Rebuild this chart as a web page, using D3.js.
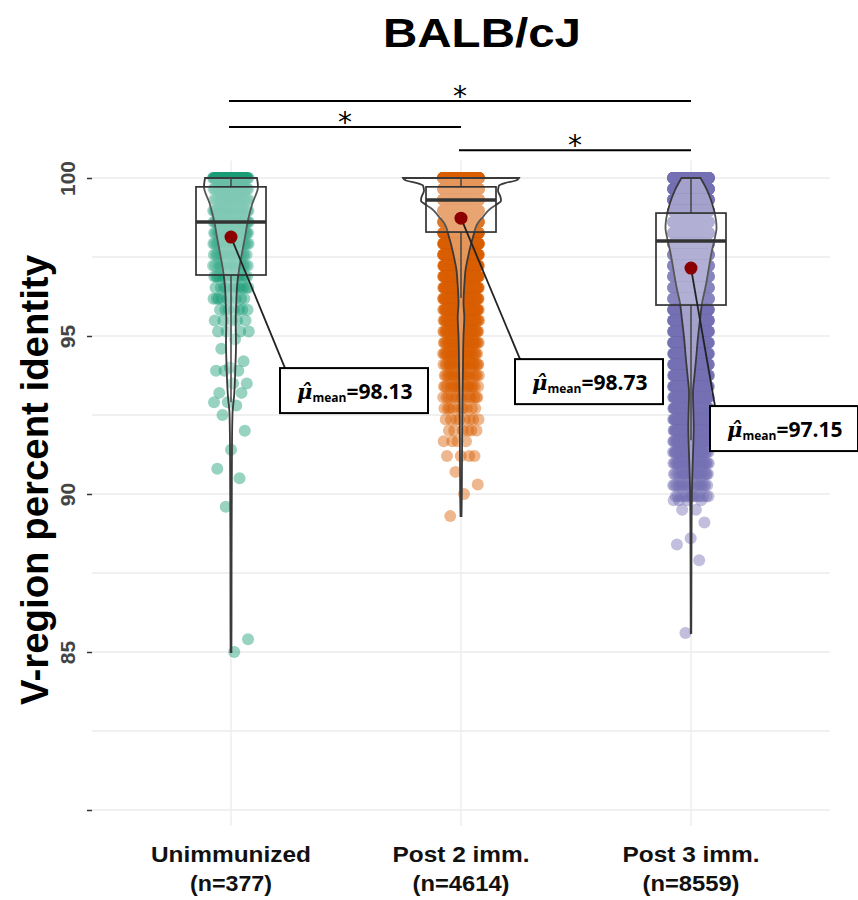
<!DOCTYPE html>
<html>
<head>
<meta charset="utf-8">
<script src="https://cdn.jsdelivr.net/npm/d3@7"></script>
<style>
body { margin: 0; background: #fff; }
</style>
</head>
<body>
<div id="chart"></div>
<script>
// groups on the x axis
const groups = ["Unimmunized", "Post 2 imm.", "Post 3 imm."];
const groupN = ["(n=377)", "(n=4614)", "(n=8559)"];
const groupColors = ["#1b9e77", "#d95f02", "#7570b3"];

// V-region percent identity values and the number of sequences at each value
const unimmValues = [100, 99.65, 99.31, 98.96, 98.61, 98.26, 97.92, 97.57, 97.22, 96.88, 96.53, 96.18, 95.83, 95.49, 95.14,
    94.9, 94.6, 94.2, 94.0, 93.9, 93.5, 93.2, 92.9, 92.8, 92.5, 92.0, 91.4, 90.8, 90.5, 89.6, 85.4, 85.0];
const unimmCounts = [74, 46, 32, 30, 36, 26, 22, 20, 18, 14, 12, 9, 7, 5, 4,
    1, 1, 1, 1, 3, 2, 2, 2, 1, 1, 1, 1, 1, 1, 1, 1, 1];

const post2Values = [100, 99.65, 99.31, 98.96, 98.61, 98.26, 97.92, 97.57, 97.22, 96.88, 96.53, 96.18, 95.83, 95.49, 95.14,
    94.79, 94.44, 94.10, 93.75, 93.40, 93.06, 92.71, 92.36, 92.01, 91.67, 91.2, 90.7, 90.3, 90.0, 89.3];
const post2Counts = [891, 600, 900, 450, 350, 300, 220, 170, 130, 110, 90, 75, 60, 50, 40,
    35, 30, 25, 20, 18, 14, 10, 8, 6, 4, 4, 1, 1, 1, 1];

const post3Values = [100, 99.65, 99.31, 98.96, 98.61, 98.26, 97.92, 97.57, 97.22, 96.88, 96.53, 96.18, 95.83, 95.49, 95.14,
    94.79, 94.44, 94.10, 93.75, 93.40, 93.06, 92.71, 92.36, 92.01, 91.67, 91.32, 90.97, 90.63, 90.28, 89.93,
    89.8, 89.5, 89.1, 88.6, 88.4, 87.9, 85.6];
const post3Counts = [802, 550, 550, 550, 550, 600, 700, 500, 450, 400, 380, 400, 300, 270, 240,
    210, 180, 160, 140, 120, 100, 85, 70, 60, 50, 40, 32, 25, 20, 14,
    4, 2, 1, 1, 1, 1, 1];

// box plot statistics (lower whisker, Q1, median, Q3, upper whisker) and means
const boxLow = [92.9, 96.2, 91.7];
const boxQ1 = [96.93, 98.29, 95.98];
const boxMedian = [98.61, 99.30, 98.01];
const boxQ3 = [99.72, 99.72, 98.89];
const boxHigh = [100, 100, 100];
const groupMeans = [98.13, 98.73, 97.15];

// violin outlines: value and relative density
const unimmViolinV = [100, 99.72, 99.21, 98.67, 98.13, 97.63, 97.09, 96.55, 96.04, 95.51, 94.7, 94.15, 93.07, 92.56, 91.5, 90, 88, 86, 85];
const unimmViolinD = [0.448, 0.466, 0.371, 0.293, 0.241, 0.19, 0.138, 0.103, 0.091, 0.081, 0.086, 0.078, 0.052, 0.026, 0.017, 0.014, 0.010, 0.009, 0.007];
const post2ViolinV = [100, 99.92, 99.84, 99.76, 99.6, 99.4, 99.28, 99.15, 99.02, 98.77, 98.58, 98.13, 97.5, 97.09, 96.68, 96.04, 95.6, 95, 94, 93, 92, 91, 90, 89.3];
const post2ViolinD = [1, 0.948, 0.759, 0.655, 0.638, 0.681, 0.69, 0.603, 0.5, 0.379, 0.293, 0.207, 0.121, 0.078, 0.06, 0.043, 0.057, 0.043, 0.034, 0.026, 0.021, 0.017, 0.014, 0.009];
const post3ViolinV = [100, 99.62, 99.21, 98.67, 98.42, 98.13, 97.63, 97.09, 96.55, 96.04, 95.51, 94.97, 94.24, 93.7, 93.2, 92.12, 91.08, 90.22, 89, 87, 85.6];
const post3ViolinD = [0.164, 0.276, 0.362, 0.431, 0.44, 0.414, 0.353, 0.302, 0.25, 0.19, 0.155, 0.121, 0.086, 0.057, 0.034, 0.047, 0.031, 0.017, 0.010, 0.007, 0.005];

// y axis
const yTicks = [80, 85, 90, 95, 100];
const yTickLabels = ["", "85", "90", "95", "100"];
const yMinorTicks = [82.5, 87.5, 92.5, 97.5];

// significance brackets
const sigFrom = [0, 0, 1];
const sigTo = [2, 1, 2];
const sigLevel = [102.44, 101.61, 100.88];
const sigLabel = ["*", "*", "*"];

const groupValues = [unimmValues, post2Values, post3Values];
const groupCounts = [unimmCounts, post2Counts, post3Counts];
const violinV = [unimmViolinV, post2ViolinV, post3ViolinV];
const violinD = [unimmViolinD, post2ViolinD, post3ViolinD];

// layout
const width = 858, height = 900;
const panelLeft = 92, panelRight = 830;
const jitterWidth = 18;
const boxHalf = 35;
// where each mean label box sits relative to its mean point (px)
const labelDx = [49, 54, 19];
const labelDy = [131, 141, 138];
const labelW = 148, labelH = 45;

const svg = d3.select("#chart")
    .append("svg")
    .attr("width", width)
    .attr("height", height)
    .style("font-family", "'Liberation Sans', Arial, sans-serif");

const x = d3.scalePoint()
    .domain(groups)
    .range([116, 806])
    .padding(0.5);

const y = d3.scaleLinear()
    .domain([80, 100])
    .range([810, 178]);

const widthScale = d3.scaleLinear()
    .domain([0, 1])
    .range([0, 58]);

// grid
const grid = svg.append("g");
grid.selectAll("line.h")
    .data(yTicks.concat(yMinorTicks))
    .enter().append("line")
    .attr("x1", panelLeft).attr("x2", panelRight)
    .attr("y1", d => y(d)).attr("y2", d => y(d))
    .attr("stroke", "#ebebeb")
    .attr("stroke-width", 1.3);
grid.selectAll("line.v")
    .data(groups)
    .enter().append("line")
    .attr("x1", d => x(d)).attr("x2", d => x(d))
    .attr("y1", y(100.55)).attr("y2", y(79.5))
    .attr("stroke", "#ebebeb")
    .attr("stroke-width", 1.3);

// y axis ticks and labels
const yAxis = svg.append("g")
    .attr("transform", "translate(" + panelLeft + ",0)")
    .call(d3.axisLeft(y).tickValues(yTicks).tickSize(5).tickFormat((d, i) => yTickLabels[i]));
yAxis.select(".domain").remove();
yAxis.selectAll(".tick line").attr("stroke", "#333").attr("stroke-width", 1.5);
yAxis.selectAll(".tick text")
    .attr("x", 0).attr("dy", 0)
    .attr("transform", "translate(-17,0) rotate(-90)")
    .attr("text-anchor", "middle")
    .style("font-size", "21px")
    .style("font-weight", "bold")
    .style("fill", "#444");

// jittered points
groups.forEach((g, gi) => {
    const pts = [];
    let k = 0;
    groupValues[gi].forEach((v, li) => {
        for (let c = 0; c < groupCounts[gi][li]; c++) {
            pts.push({ v: v, k: k });
            k++;
        }
    });
    svg.append("g")
        .selectAll("circle")
        .data(pts)
        .enter().append("circle")
        .attr("cx", d => x(g) + (((d.k * 0.6180339887 + 0.21) % 1) * 2 - 1) * jitterWidth)
        .attr("cy", d => y(d.v))
        .attr("r", 6)
        .attr("fill", groupColors[gi])
        .attr("fill-opacity", 0.45);
});

// violins
groups.forEach((g, gi) => {
    const prof = violinV[gi].map((v, i) => ({ v: v, d: violinD[gi][i] }));
    const area = d3.area()
        .y(d => y(d.v))
        .x0(d => x(g) - widthScale(d.d))
        .x1(d => x(g) + widthScale(d.d))
        .curve(d3.curveMonotoneY);
    svg.append("path")
        .datum(prof)
        .attr("d", area)
        .attr("fill", "#fff")
        .attr("fill-opacity", 0.35)
        .attr("stroke", "#3a3a3a")
        .attr("stroke-width", 1.8);
});

// boxes
groups.forEach((g, gi) => {
    const bx = svg.append("g");
    bx.append("line")
        .attr("x1", x(g)).attr("x2", x(g))
        .attr("y1", y(boxHigh[gi])).attr("y2", y(boxQ3[gi]))
        .attr("stroke", "#444").attr("stroke-width", 1.5);
    bx.append("line")
        .attr("x1", x(g)).attr("x2", x(g))
        .attr("y1", y(boxQ1[gi])).attr("y2", y(boxLow[gi]))
        .attr("stroke", "#444").attr("stroke-width", 1.5);
    bx.append("rect")
        .attr("x", x(g) - boxHalf)
        .attr("y", y(boxQ3[gi]))
        .attr("width", boxHalf * 2)
        .attr("height", y(boxQ1[gi]) - y(boxQ3[gi]))
        .attr("fill", "#fff").attr("fill-opacity", 0.15)
        .attr("stroke", "#333").attr("stroke-width", 1.7);
    bx.append("line")
        .attr("x1", x(g) - boxHalf).attr("x2", x(g) + boxHalf)
        .attr("y1", y(boxMedian[gi])).attr("y2", y(boxMedian[gi]))
        .attr("stroke", "#333").attr("stroke-width", 3.5);
});

// mean points and labels
groups.forEach((g, gi) => {
    const mx = x(g), my = y(groupMeans[gi]);
    const lx = mx + labelDx[gi], ly = my + labelDy[gi];
    svg.append("line")
        .attr("x1", mx).attr("y1", my)
        .attr("x2", lx + 5).attr("y2", ly)
        .attr("stroke", "#222").attr("stroke-width", 1.8);
    svg.append("circle")
        .attr("cx", mx).attr("cy", my)
        .attr("r", 6.5)
        .attr("fill", "#8b0000");
    svg.append("rect")
        .attr("x", lx).attr("y", ly)
        .attr("width", labelW).attr("height", labelH)
        .attr("fill", "#fff")
        .attr("stroke", "#000").attr("stroke-width", 2);
    const t = svg.append("text")
        .attr("x", lx + 17).attr("y", ly + 31)
        .style("font-family", "'Open Sans', sans-serif")
        .style("font-weight", "bold")
        .style("font-size", "21px");
    t.append("tspan")
        .style("font-family", "'DejaVu Serif', serif")
        .style("font-style", "italic")
        .text("\u03bc\u0302");
    t.append("tspan")
        .attr("dy", 3)
        .style("font-size", "12px")
        .text("mean");
    t.append("tspan")
        .attr("dy", -3)
        .text("=" + groupMeans[gi].toFixed(2));
});

// significance brackets
sigFrom.forEach((f, i) => {
    const x1 = x(groups[f]) - 2, x2 = x(groups[sigTo[i]]);
    svg.append("line")
        .attr("x1", x1).attr("x2", x2)
        .attr("y1", y(sigLevel[i])).attr("y2", y(sigLevel[i]))
        .attr("stroke", "#000").attr("stroke-width", 2);
    svg.append("text")
        .attr("x", (x1 + x2) / 2)
        .attr("y", y(sigLevel[i]) + 5)
        .attr("text-anchor", "middle")
        .style("font-family", "'DejaVu Sans', sans-serif")
        .style("font-size", "28px")
        .text(sigLabel[i]);
});

// x axis labels
const xLabelLen = [160, 137, 137];
const xNLen = [82, 97, 97];
groups.forEach((g, gi) => {
    svg.append("text")
        .attr("x", x(g)).attr("y", 862)
        .attr("text-anchor", "middle")
        .attr("textLength", xLabelLen[gi])
        .attr("lengthAdjust", "spacingAndGlyphs")
        .style("font-weight", "bold")
        .style("font-size", "22px")
        .style("fill", "#111")
        .text(g);
    svg.append("text")
        .attr("x", x(g)).attr("y", 891)
        .attr("text-anchor", "middle")
        .attr("textLength", xNLen[gi])
        .attr("lengthAdjust", "spacingAndGlyphs")
        .style("font-weight", "bold")
        .style("font-size", "22px")
        .style("fill", "#111")
        .text(groupN[gi]);
});

// y axis title
svg.append("text")
    .attr("transform", "translate(48,480) rotate(-90)")
    .attr("text-anchor", "middle")
    .attr("textLength", 450)
    .attr("lengthAdjust", "spacingAndGlyphs")
    .style("font-weight", "bold")
    .style("font-size", "38px")
    .style("fill", "#000")
    .text("V-region percent identity");

// title
svg.append("text")
    .attr("x", 482).attr("y", 47)
    .attr("text-anchor", "middle")
    .attr("textLength", 198)
    .attr("lengthAdjust", "spacingAndGlyphs")
    .style("font-weight", "bold")
    .style("font-size", "40px")
    .text("BALB/cJ");
</script>
</body>
</html>
